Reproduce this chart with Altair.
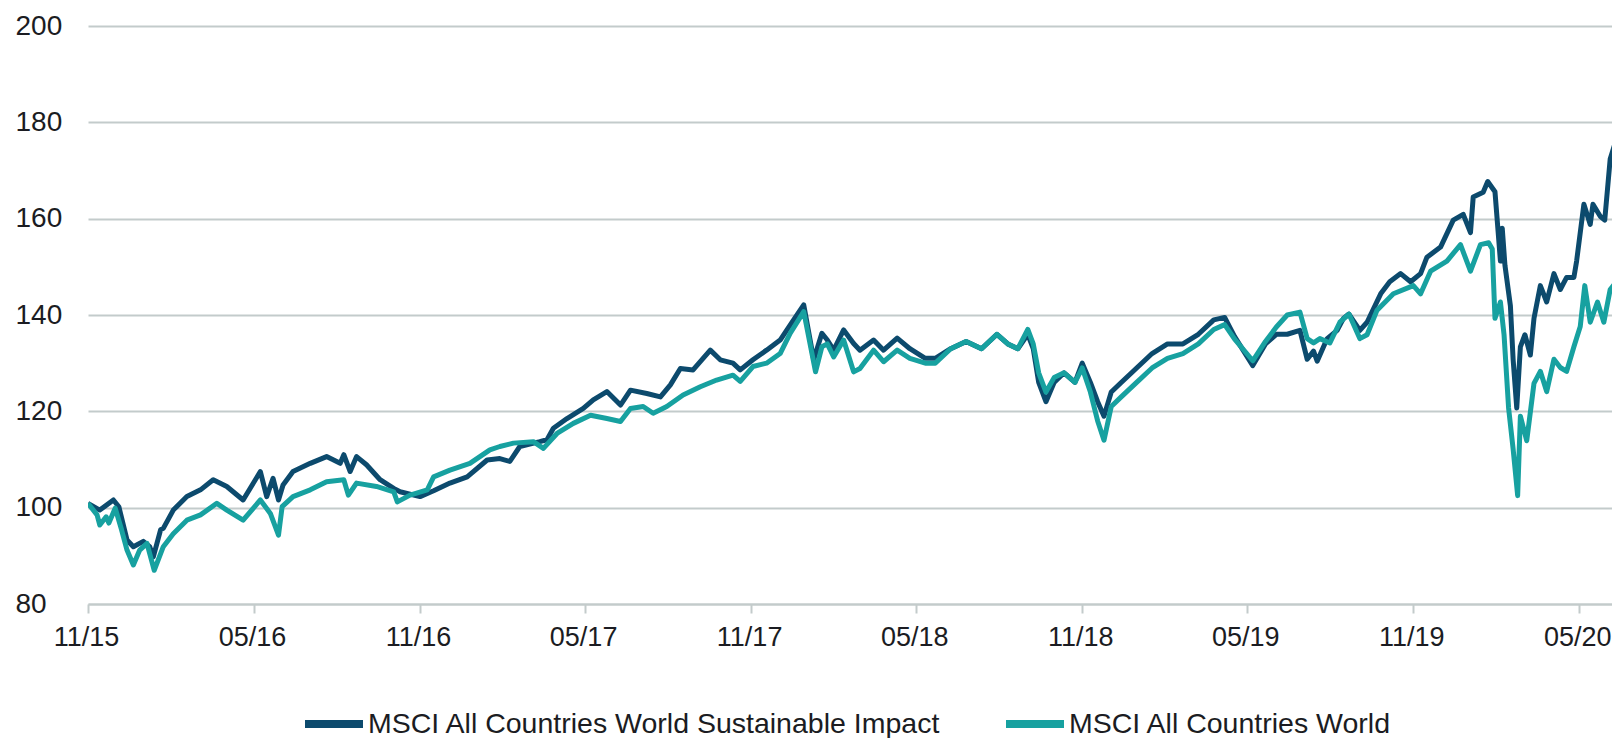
import altair as alt
import pandas as pd

series_names = ["MSCI All Countries World Sustainable Impact", "MSCI All Countries World"]
series_colors = ["#0c4a6d", "#17a1a0"]

impact_dates = [
    "2015-11-30", "2015-12-13", "2015-12-28", "2016-01-03", "2016-01-12", "2016-01-19", "2016-01-30",
    "2016-02-06", "2016-02-10", "2016-02-18", "2016-02-21", "2016-03-03", "2016-03-18", "2016-04-02",
    "2016-04-16", "2016-05-01", "2016-05-19", "2016-06-07", "2016-06-14", "2016-06-21", "2016-06-27",
    "2016-07-02", "2016-07-13", "2016-08-01", "2016-08-19", "2016-09-03", "2016-09-07", "2016-09-14",
    "2016-09-21", "2016-10-02", "2016-10-17", "2016-11-01", "2016-11-08", "2016-11-30", "2016-12-15",
    "2017-01-02", "2017-01-21", "2017-02-12", "2017-02-26", "2017-03-09", "2017-03-20", "2017-04-11",
    "2017-04-19", "2017-04-26", "2017-05-11", "2017-05-29", "2017-06-09", "2017-06-24", "2017-07-09",
    "2017-07-20", "2017-08-07", "2017-08-22", "2017-09-02", "2017-09-13", "2017-09-27", "2017-10-16",
    "2017-10-27", "2017-11-10", "2017-11-18", "2017-12-02", "2017-12-17", "2018-01-01", "2018-01-12",
    "2018-01-27", "2018-02-07", "2018-02-16", "2018-02-22", "2018-03-01", "2018-03-12", "2018-03-23",
    "2018-03-30", "2018-04-14", "2018-04-25", "2018-05-10", "2018-05-24", "2018-06-10", "2018-06-21",
    "2018-07-08", "2018-07-25", "2018-08-11", "2018-08-28", "2018-09-09", "2018-09-20", "2018-10-01",
    "2018-10-07", "2018-10-13", "2018-10-21", "2018-10-30", "2018-11-10", "2018-11-22", "2018-11-30",
    "2018-12-09", "2018-12-17", "2018-12-24", "2019-01-01", "2019-01-12", "2019-01-29", "2019-02-15",
    "2019-03-04", "2019-03-21", "2019-04-07", "2019-04-24", "2019-05-06", "2019-05-17", "2019-06-06",
    "2019-06-20", "2019-07-02", "2019-07-14", "2019-07-28", "2019-08-05", "2019-08-12", "2019-08-16",
    "2019-08-27", "2019-09-07", "2019-09-14", "2019-09-20", "2019-10-02", "2019-10-10", "2019-10-25",
    "2019-11-04", "2019-11-16", "2019-11-27", "2019-12-08", "2019-12-15", "2019-12-30", "2020-01-13",
    "2020-01-24", "2020-02-01", "2020-02-04", "2020-02-15", "2020-02-20", "2020-02-28", "2020-03-05",
    "2020-03-07", "2020-03-10", "2020-03-16", "2020-03-19", "2020-03-23", "2020-03-27", "2020-04-01",
    "2020-04-07", "2020-04-11", "2020-04-18", "2020-04-25", "2020-05-03", "2020-05-10", "2020-05-17",
    "2020-05-25", "2020-05-28", "2020-06-05", "2020-06-12", "2020-06-15", "2020-06-23", "2020-06-28",
    "2020-07-04", "2020-07-11", "2020-07-15",
]
impact_values = [
    100.9, 99.5, 101.6, 100.2, 93.3, 91.9, 93.0,
    91.9, 89.8, 95.4, 95.7, 99.5, 102.3, 103.7,
    105.8, 104.4, 101.6, 107.5, 102.3, 106.1, 101.6,
    104.7, 107.5, 109.2, 110.6, 109.2, 111.0, 107.5,
    110.6, 108.9, 105.8, 104.0, 103.3, 102.3, 103.5,
    105.1, 106.4, 109.9, 110.2, 109.6, 112.7, 113.7,
    114.1, 116.5, 118.5, 120.6, 122.4, 124.1, 121.3,
    124.4, 123.7, 123.0, 125.5, 128.9, 128.6, 132.7,
    130.7, 130.0, 128.6, 130.7, 132.7, 134.8, 137.9,
    142.1, 130.7, 136.2, 134.8, 132.7, 136.9, 134.1,
    132.7, 134.8, 132.7, 135.2, 133.0, 131.0, 131.0,
    133.0, 134.5, 133.0, 136.0, 134.0, 133.0, 136.0,
    133.0, 126.0, 122.0, 126.0, 128.0, 126.0, 130.0,
    126.0, 122.0, 119.0, 124.0, 126.0, 129.0, 132.0,
    134.0, 134.0, 136.0, 139.0, 139.5, 135.5, 129.5,
    134.0, 136.0, 136.0, 136.8, 130.8, 132.5, 130.4,
    135.1, 136.8, 139.3, 140.2, 136.8, 138.5, 144.4,
    146.9, 148.6, 146.9, 148.6, 152.0, 154.1, 159.7,
    160.9, 157.1, 164.5, 165.5, 167.7, 165.6, 151.2,
    158.0, 150.3, 141.9, 130.8, 120.7, 133.4, 135.9,
    131.7, 139.3, 146.1, 142.7, 148.6, 145.3, 147.8,
    147.8, 151.2, 163.0, 158.8, 163.0, 160.5, 159.7,
    172.4, 176.6, 178.3,
]

world_dates = [
    "2015-11-30", "2015-12-10", "2015-12-13", "2015-12-20", "2015-12-23", "2015-12-30", "2016-01-06",
    "2016-01-12", "2016-01-19", "2016-01-26", "2016-02-03", "2016-02-11", "2016-02-21", "2016-03-03",
    "2016-03-18", "2016-04-02", "2016-04-20", "2016-05-01", "2016-05-19", "2016-06-07", "2016-06-18",
    "2016-06-27", "2016-07-01", "2016-07-13", "2016-08-01", "2016-08-19", "2016-09-07", "2016-09-12",
    "2016-09-21", "2016-10-13", "2016-11-01", "2016-11-05", "2016-11-19", "2016-12-08", "2016-12-15",
    "2017-01-02", "2017-01-24", "2017-02-15", "2017-02-26", "2017-03-13", "2017-04-04", "2017-04-15",
    "2017-04-30", "2017-05-18", "2017-06-06", "2017-06-24", "2017-07-09", "2017-07-20", "2017-08-03",
    "2017-08-14", "2017-08-29", "2017-09-16", "2017-10-05", "2017-10-23", "2017-11-10", "2017-11-18",
    "2017-12-02", "2017-12-17", "2018-01-01", "2018-01-12", "2018-01-27", "2018-02-09", "2018-02-16",
    "2018-02-22", "2018-03-01", "2018-03-12", "2018-03-23", "2018-03-30", "2018-04-14", "2018-04-25",
    "2018-05-10", "2018-05-24", "2018-06-10", "2018-06-21", "2018-07-08", "2018-07-25", "2018-08-11",
    "2018-08-28", "2018-09-09", "2018-09-20", "2018-10-01", "2018-10-07", "2018-10-13", "2018-10-21",
    "2018-10-30", "2018-11-10", "2018-11-22", "2018-11-30", "2018-12-09", "2018-12-17", "2018-12-24",
    "2019-01-01", "2019-01-12", "2019-01-29", "2019-02-15", "2019-03-04", "2019-03-21", "2019-04-07",
    "2019-04-24", "2019-05-06", "2019-05-17", "2019-06-06", "2019-06-20", "2019-07-02", "2019-07-14",
    "2019-07-28", "2019-08-05", "2019-08-12", "2019-08-19", "2019-08-30", "2019-09-10", "2019-09-20",
    "2019-10-02", "2019-10-10", "2019-10-21", "2019-11-08", "2019-11-30", "2019-12-08", "2019-12-19",
    "2020-01-06", "2020-01-21", "2020-02-01", "2020-02-12", "2020-02-21", "2020-02-25", "2020-02-28",
    "2020-03-05", "2020-03-09", "2020-03-14", "2020-03-19", "2020-03-24", "2020-03-27", "2020-04-03",
    "2020-04-11", "2020-04-18", "2020-04-25", "2020-05-03", "2020-05-10", "2020-05-17", "2020-05-25",
    "2020-06-01", "2020-06-06", "2020-06-12", "2020-06-20", "2020-06-27", "2020-07-04", "2020-07-15",
]
world_values = [
    100.9, 98.5, 96.4, 98.1, 96.8, 99.9, 95.4,
    91.2, 88.1, 91.2, 92.6, 87.0, 91.9, 94.6,
    97.4, 98.5, 100.9, 99.5, 97.4, 101.6, 98.8,
    94.3, 100.2, 102.3, 103.7, 105.4, 105.8, 102.6,
    105.1, 104.4, 103.3, 101.2, 102.6, 103.7, 106.4,
    107.8, 109.2, 112.0, 112.7, 113.4, 113.7, 112.3,
    115.4, 117.5, 119.2, 118.5, 117.9, 120.6, 121.0,
    119.6, 121.0, 123.4, 125.1, 126.5, 127.5, 126.2,
    129.3, 130.0, 132.0, 136.2, 140.7, 128.2, 133.4,
    134.0, 131.3, 134.8, 128.2, 128.9, 132.7, 130.3,
    132.7, 131.0, 130.0, 130.0, 133.0, 134.5, 133.0,
    136.0, 134.0, 133.0, 137.0, 134.0, 128.0, 124.0,
    127.0, 128.0, 126.0, 129.0, 124.0, 118.0, 114.0,
    121.0, 123.0, 126.0, 129.0, 131.0, 132.0, 134.0,
    137.0, 138.0, 135.0, 130.5, 134.5, 137.5, 140.0,
    140.6, 135.1, 134.2, 135.1, 134.2, 138.5, 140.2,
    135.1, 135.9, 141.0, 144.4, 146.1, 144.4, 149.1,
    151.2, 154.6, 149.1, 154.6, 155.0, 153.7, 139.3,
    142.7, 135.9, 120.7, 112.2, 102.5, 119.0, 113.9,
    125.8, 128.3, 124.1, 130.8, 129.1, 128.3, 133.4,
    137.6, 146.1, 138.5, 142.7, 138.5, 145.3, 147.8,
]

x_tick_dates = ["2015-11-30", "2016-05-31", "2016-11-30", "2017-05-31", "2017-11-30",
                "2018-05-31", "2018-11-30", "2019-05-31", "2019-11-30", "2020-05-31"]
x_domain = ["2015-11-30", "2020-07-06"]
y_ticks = [80, 100, 120, 140, 160, 180, 200]


def dt(s):
    y, m, d = (int(p) for p in s.split("-"))
    return alt.DateTime(year=y, month=m, date=d, utc=True)


impact_df = pd.DataFrame({"date": impact_dates, "value": impact_values, "series": series_names[0]})
world_df = pd.DataFrame({"date": world_dates, "value": world_values, "series": series_names[1]})

FONT = "Liberation Sans, Arial, sans-serif"
LABEL = "#1b1c22"
GRID = "#c3cbcb"

x_enc = alt.X(
    "date:T",
    scale=alt.Scale(type="utc", domain=[dt(d) for d in x_domain]),
    axis=alt.Axis(
        values=[dt(d) for d in x_tick_dates],
        format="%m/%y",
        title=None,
        grid=False,
        domainColor=GRID,
        domainWidth=2,
        tickColor=GRID,
        tickWidth=2,
        tickSize=9,
        labelPadding=11,
        labelOffset=-2,
        labelFont=FONT,
        labelFontSize=27,
        labelColor=LABEL,
        labelBaseline="top",
        labelFlush=False,
        labelOverlap=False,
        labelBound=False,
    ),
)
y_enc = alt.Y(
    "value:Q",
    scale=alt.Scale(domain=[80, 200], nice=False, zero=False),
    axis=alt.Axis(
        values=y_ticks,
        title=None,
        grid=True,
        gridColor=GRID,
        gridWidth=2,
        domain=False,
        ticks=False,
        tickSize=0,
        labelAlign="left",
        labelBaseline="middle",
        labelPadding=73,
        labelFont=FONT,
        labelFontSize=28,
        labelColor=LABEL,
    ),
)
color_enc = alt.Color(
    "series:N",
    scale=alt.Scale(domain=series_names, range=series_colors),
    legend=alt.Legend(
        title=None,
        orient="none",
        legendX=213,
        legendY=665,
        direction="horizontal",
        symbolType="stroke",
        symbolStrokeWidth=8,
        symbolSize=3364,
        labelFont=FONT,
        labelFontSize=28.5,
        labelColor=LABEL,
        labelOffset=1,
        labelLimit=0,
        columnPadding=49,
        padding=0,
    ),
)

impact_line = alt.Chart(impact_df).mark_line(clip=True, strokeJoin="round").encode(
    x=x_enc, y=y_enc, color=color_enc, strokeWidth=alt.value(5)
)
world_line = alt.Chart(world_df).mark_line(clip=True, strokeJoin="round").encode(
    x=x_enc, y=y_enc, color=color_enc, strokeWidth=alt.value(5)
)

chart = (
    alt.layer(impact_line, world_line)
    .properties(
        width=1524,
        height=578,
        autosize=alt.AutoSizeParams(type="none"),
        padding={"left": 80, "top": 18, "right": 0, "bottom": 134},
        background="white",
    )
    .configure_view(stroke=None)
)

chart.save("out.html", embed_options={"renderer": "svg", "actions": False})
